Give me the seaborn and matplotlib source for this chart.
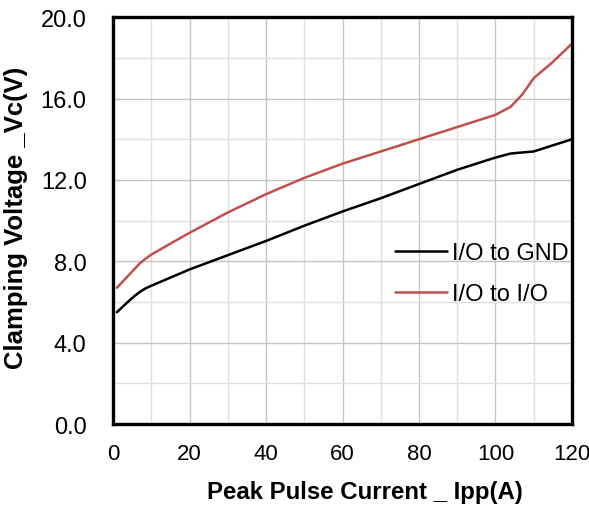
import matplotlib
matplotlib.use("Agg")
import matplotlib.pyplot as plt
import seaborn as sns
import pandas as pd
from matplotlib.ticker import MultipleLocator

current = [1, 3, 5, 7, 8.5, 10, 15, 20, 30, 40, 50, 60, 70, 80, 90, 100, 104, 107, 110, 115, 120]
io_gnd = [5.5, 5.85, 6.2, 6.5, 6.67, 6.8, 7.2, 7.6, 8.3, 9.0, 9.75, 10.45, 11.1, 11.8, 12.5, 13.1, 13.3, 13.35, 13.4, 13.7, 14.0]
io_io = [6.7, 7.1, 7.5, 7.9, 8.13, 8.33, 8.87, 9.4, 10.4, 11.3, 12.1, 12.8, 13.4, 14.0, 14.6, 15.2, 15.6, 16.2, 17.0, 17.8, 18.7]
series_names = ["I/O to GND", "I/O to I/O"]
x_ticks = [0, 20, 40, 60, 80, 100, 120]
y_ticks = [0.0, 4.0, 8.0, 12.0, 16.0, 20.0]

df = pd.DataFrame({
    "Current": current * 2,
    "Voltage": io_gnd + io_io,
    "Series": [series_names[0]] * len(current) + [series_names[1]] * len(current),
})

sns.set_theme(style="white")
plt.rcParams["font.family"] = ["Liberation Sans", "DejaVu Sans"]

fig = plt.figure(figsize=(5.89, 5.06), dpi=100)
ax = fig.add_axes([0.192, 0.160, 0.779, 0.804])

sns.lineplot(data=df, x="Current", y="Voltage", hue="Series",
             palette={series_names[0]: "#000000", series_names[1]: "#C0504D"},
             linewidth=1.8, ax=ax, sort=False)

ax.set_xlim(0, 120)
ax.set_ylim(0, 20)
ax.set_xticks(x_ticks)
ax.set_xticklabels([str(v) for v in x_ticks])
ax.set_yticks(y_ticks)
ax.set_yticklabels([f"{v:.1f}" for v in y_ticks])
ax.xaxis.set_minor_locator(MultipleLocator(10))
ax.yaxis.set_minor_locator(MultipleLocator(2))
ax.grid(True, which="major", color="#c4c4c4", linewidth=1.0)
ax.grid(True, which="minor", color="#e0e0e0", linewidth=1.0)
ax.set_axisbelow(True)
ax.tick_params(axis="both", which="both", length=0, colors="black")
ax.tick_params(axis="x", pad=13.5, labelsize=16)
ax.tick_params(axis="y", pad=19, labelsize=17)

for s in ax.spines.values():
    s.set_visible(True)
    s.set_color("black")
    s.set_linewidth(2.4)

ax.set_xlabel("Peak Pulse Current _ Ipp(A)", fontsize=17.3, fontweight="bold", color="black")
ax.set_ylabel("Clamping Voltage _Vc(V)", fontsize=18.5, fontweight="bold", color="black")
ax.xaxis.set_label_coords(0.549, -0.138)
ax.yaxis.set_label_coords(-0.185, 0.508)

leg = ax.legend(loc="center left", bbox_to_anchor=(0.615, 0.37), frameon=False,
                fontsize=17, handlelength=2.2, handletextpad=0.2, labelspacing=0.8,
                borderaxespad=0, borderpad=0)
for t in leg.get_texts():
    t.set_color("black")

fig.savefig("out.png", dpi=100)
